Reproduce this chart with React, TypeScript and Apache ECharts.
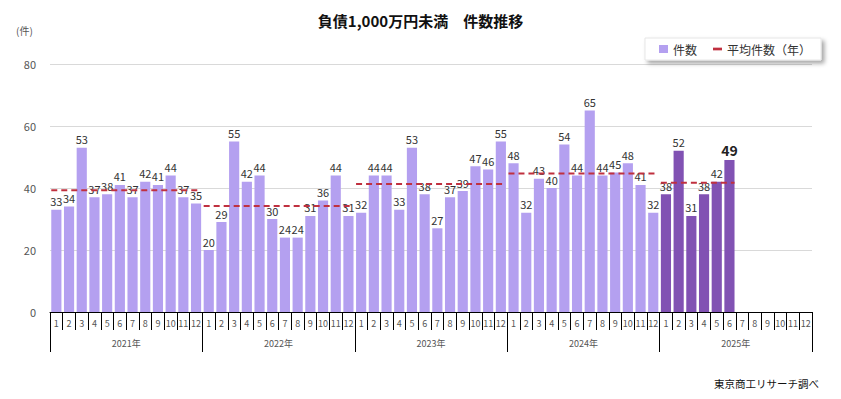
import React, { useEffect, useRef } from "react";
import * as echarts from "echarts";

const years = ["2021年", "2022年", "2023年", "2024年", "2025年"];
const months = ["1", "2", "3", "4", "5", "6", "7", "8", "9", "10", "11", "12"];
const counts2021 = [33, 34, 53, 37, 38, 41, 37, 42, 41, 44, 37, 35];
const counts2022 = [20, 29, 55, 42, 44, 30, 24, 24, 31, 36, 44, 31];
const counts2023 = [32, 44, 44, 33, 53, 38, 27, 37, 39, 47, 46, 55];
const counts2024 = [48, 32, 43, 40, 54, 44, 65, 44, 45, 48, 41, 32];
const counts2025 = [38, 52, 31, 38, 42, 49];
const yearAverages = [39.3, 34.2, 41.3, 44.7, 41.7];

const FONT = "'Noto Sans CJK JP', 'Noto Sans', sans-serif";
const LIGHT = "#b4a0f0";
const DARK = "#8152b3";
const AVG = "#c0303f";

export default function App() {
  const ref = useRef<HTMLDivElement>(null);
  useEffect(() => {
    document.body.style.margin = "0";
    const chart = echarts.init(ref.current!, null, { renderer: "svg" });
    const allYears = [counts2021, counts2022, counts2023, counts2024, counts2025];
    const categories: string[] = [];
    const barData: any[] = [];
    allYears.forEach((arr, yi) => {
      months.forEach((m, mi) => {
        categories.push(m);
        const v = arr[mi];
        if (v === undefined) {
          barData.push("-");
          return;
        }
        const isLast = yi === 4;
        const isFinal = yi === 4 && mi === arr.length - 1;
        const item: any = { value: v, itemStyle: { color: isLast ? DARK : LIGHT } };
        if (isFinal) {
          item.label = { fontSize: 14, fontWeight: "bold", color: "#222" };
        }
        barData.push(item);
      });
    });
    const avgSeries = yearAverages.map((a, yi) => {
      const n = allYears[yi].length;
      const start = yi * 12;
      return {
        name: "平均件数（年）",
        type: "line",
        xAxisIndex: 2,
        symbol: "none",
        z: 5,
        lineStyle: { color: AVG, width: 2, type: [6, 4] },
        itemStyle: { color: AVG },
        data: [
          [start + 0.1, a],
          [start + n - 0.1, a],
        ],
      };
    });
    chart.setOption({
      animation: false,
      textStyle: { fontFamily: FONT },
      title: {
        text: "負債1,000万円未満　件数推移",
        left: "center",
        top: 8,
        textStyle: { fontSize: 15, fontWeight: "bold", color: "#111", fontFamily: FONT },
      },
      legend: {
        right: 20,
        top: 38,
        padding: [5, 10, 5, 14],
        itemGap: 16,
        itemWidth: 9,
        itemHeight: 8,
        backgroundColor: "#fff",
        borderColor: "#e6e6e6",
        borderWidth: 1,
        shadowColor: "rgba(0,0,0,0.35)",
        shadowBlur: 4,
        shadowOffsetX: 3,
        shadowOffsetY: 3,
        textStyle: { fontSize: 12, color: "#333", fontFamily: FONT },
        data: [
          { name: "件数", icon: "rect" },
          { name: "平均件数（年）", icon: "path://M0,0H10V3H0Z", itemStyle: { color: AVG } },
        ],
      },
      grid: { left: 50, right: 29, top: 64, bottom: 87 },
      xAxis: [
        {
          type: "category",
          data: categories,
          boundaryGap: true,
          axisLine: { lineStyle: { color: "#000" } },
          axisTick: { show: true, interval: 0, length: 18, lineStyle: { color: "#000" } },
          axisLabel: { interval: 0, fontSize: 9, color: "#555", margin: 7 },
        },
        {
          type: "category",
          data: years,
          position: "bottom",
          boundaryGap: true,
          axisLine: { show: false },
          axisTick: { show: true, interval: 0, length: 40, lineStyle: { color: "#000" } },
          axisLabel: { interval: 0, fontSize: 9, color: "#555", margin: 27 },
        },
        { type: "value", min: 0, max: 60, show: false },
      ],
      yAxis: {
        type: "value",
        min: 0,
        max: 80,
        interval: 20,
        axisLine: { show: false },
        axisTick: { show: false },
        axisLabel: { fontSize: 11, color: "#555", margin: 14 },
        splitLine: { lineStyle: { color: "#d9d9d9" } },
      },
      graphic: [
        { type: "text", left: 16, top: 25, style: { text: "(件)", fill: "#555", font: `10px ${FONT}` } },
        { type: "text", right: 22, top: 378, style: { text: "東京商工リサーチ調べ", fill: "#111", font: `10.5px ${FONT}` } },
      ],
      series: [
        {
          name: "件数",
          type: "bar",
          xAxisIndex: 0,
          barCategoryGap: "20%",
          itemStyle: { color: LIGHT },
          label: { show: true, position: "top", distance: 3, fontSize: 11, color: "#333" },
          data: barData,
        },
        ...avgSeries,
      ],
    });
    return () => chart.dispose();
  }, []);
  return <div ref={ref} style={{ width: 841, height: 399 }} />;
}
